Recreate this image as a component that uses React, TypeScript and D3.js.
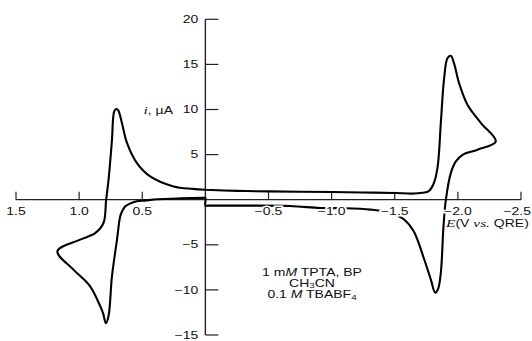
import * as d3 from 'd3';

// potential axis (V vs. QRE, decreasing to the right) and current axis (µA)
const xTicks = [1.5, 1.0, 0.5, -0.5, -1.0, -1.5, -2.0, -2.5];
const yTicks = [20, 15, 10, 5, -5, -10, -15];

// one full scan: E in V, i in µA
const scanE = [
  0, -0.25, -0.5, -0.75, -1.0, -1.25, -1.5, -1.65, -1.72, -1.77, -1.81, -1.84, -1.865, -1.89,
  -1.918, -1.944, -1.97, -2.01, -2.077, -2.183, -2.3,
  -2.156, -2.037, -1.984, -1.944, -1.905, -1.886, -1.865, -1.843, -1.82, -1.786, -1.733, -1.65,
  -1.574, -1.47, -1.31, -1.08, -0.91, -0.67, -0.3, -0.02, 0,
  0, 0.02, 0.2, 0.38, 0.48, 0.542, 0.6, 0.635, 0.66, 0.675, 0.7, 0.74, 0.767, 0.788, 0.81,
  0.833, 0.913, 1.045, 1.172,
  0.992, 0.873, 0.807, 0.786, 0.767, 0.74, 0.722, 0.705, 0.69, 0.661, 0.621, 0.542, 0.437,
  0.252, 0.1, 0,
];
const scanI = [
  1.1, 0.98, 0.92, 0.88, 0.85, 0.8, 0.74, 0.68, 0.78, 0.95, 1.85, 3.7, 8.5, 13.3,
  15.7, 15.95, 15.1, 12.9, 10.5, 8.5, 6.46,
  5.54, 4.98, 4.24, 2.95, 0, -2.95, -8.1, -9.9, -10.3, -8.86, -6.6, -3.5,
  -2.2, -1.47, -1.1, -0.94, -0.92, -0.7, -0.66, -0.66, -0.66,
  0.2, 0.2, 0.15, 0.05, -0.1, -0.18, -0.45, -0.74, -1.3, -1.85, -4.43, -8.5, -12.9, -13.7, -12.6,
  -11.8, -9.6, -7.75, -5.72,
  -4.43, -3.7, -2.58, 0, 2.2, 6.6, 9.8, 10.05, 9.9, 8.5, 6.3, 4.06, 2.58,
  1.47, 1.2, 1.1,
];

const SANS = '"Liberation Sans", Arial, sans-serif';
const SERIF = '"Liberation Serif", "Times New Roman", serif';
const SX = 1.4; // the figure is stretched horizontally

const fmt = (v: number, digits: number) => v.toFixed(digits).replace('-', '\u2212');

const Txt = ({ x, y, anchor = 'middle', size = 10, halo = false, children }: any) => (
  <g transform={`translate(${x},${y}) scale(${SX},1)`}>
    <text
      textAnchor={anchor}
      fontFamily={SANS}
      fontSize={size}
      fill="#111"
      stroke={halo ? '#fff' : 'none'}
      strokeWidth={halo ? 3 : 0}
      style={{ paintOrder: 'stroke' }}
    >
      {children}
    </text>
  </g>
);

export default function App() {
  const width = 532;
  const height = 341;
  const x = d3.scaleLinear().domain([1.5, -2.5]).range([16, 521]);
  const y = d3.scaleLinear().domain([-15, 20]).range([335, 19.3]);

  const pts = scanE.map((e, k) => [e, scanI[k]] as [number, number]);
  const path = d3
    .line<[number, number]>()
    .x((d) => x(d[0]))
    .y((d) => y(d[1]))
    .curve(d3.curveCatmullRom.alpha(0.5))(pts);

  const x0 = x(0);
  const y0 = y(0);
  const last = xTicks[xTicks.length - 1];

  return (
    <div style={{ position: 'fixed', left: 0, top: 0 }}>
      <svg width={width} height={height} style={{ display: 'block', background: '#fff' }}>
        {/* horizontal axis */}
        <line x1={x(1.5)} x2={x(-2.5)} y1={y0} y2={y0} stroke="#222" strokeWidth={1.2} />
        {xTicks.map((t) => (
          <line key={t} x1={x(t)} x2={x(t)} y1={y0} y2={y0 - 8} stroke="#222" strokeWidth={1.2} />
        ))}
        {/* vertical axis */}
        <line x1={x0} x2={x0} y1={y(20)} y2={y(-15)} stroke="#222" strokeWidth={1.4} />
        {yTicks.map((t) => (
          <g key={t}>
            <line x1={x0} x2={x0 + 13} y1={y(t)} y2={y(t)} stroke="#222" strokeWidth={1.2} />
            <Txt x={x0 - 7} y={y(t) + 3.6} anchor="end">
              {fmt(t, 0)}
            </Txt>
          </g>
        ))}

        {/* voltammogram */}
        <path d={path ?? ''} fill="none" stroke="#000" strokeWidth={2.1} strokeLinejoin="round" />

        {xTicks.map((t) =>
          t === last ? (
            <Txt key={t} x={531} y={y0 + 15} anchor="end" halo>
              {fmt(t, 1)}
            </Txt>
          ) : (
            <Txt key={t} x={x(t)} y={y0 + 15} halo>
              {fmt(t, 1)}
            </Txt>
          )
        )}

        {/* axis titles */}
        <Txt x={173} y={113.5} anchor="end">
          <tspan fontFamily={SERIF} fontStyle="italic" fontSize={11}>
            i
          </tspan>
          <tspan>, {'\u00b5'}A</tspan>
        </Txt>
        <Txt x={446} y={226.5} anchor="start">
          <tspan fontFamily={SERIF} fontStyle="italic" fontSize={11}>
            E
          </tspan>
          <tspan>(V </tspan>
          <tspan fontFamily={SERIF} fontStyle="italic" fontSize={11}>
            vs.
          </tspan>
          <tspan> QRE)</tspan>
        </Txt>

        {/* conditions */}
        <Txt x={312} y={276} size={10}>
          1 m<tspan fontStyle="italic">M</tspan> TPTA, BP
        </Txt>
        <Txt x={312} y={286.5} size={10}>
          CH<tspan fontSize={7} dy={1.5}>3</tspan>
          <tspan dy={-1.5}>CN</tspan>
        </Txt>
        <Txt x={312} y={297.5} size={10}>
          0.1 <tspan fontStyle="italic">M</tspan> TBABF<tspan fontSize={7} dy={2}>4</tspan>
        </Txt>
      </svg>
    </div>
  );
}
